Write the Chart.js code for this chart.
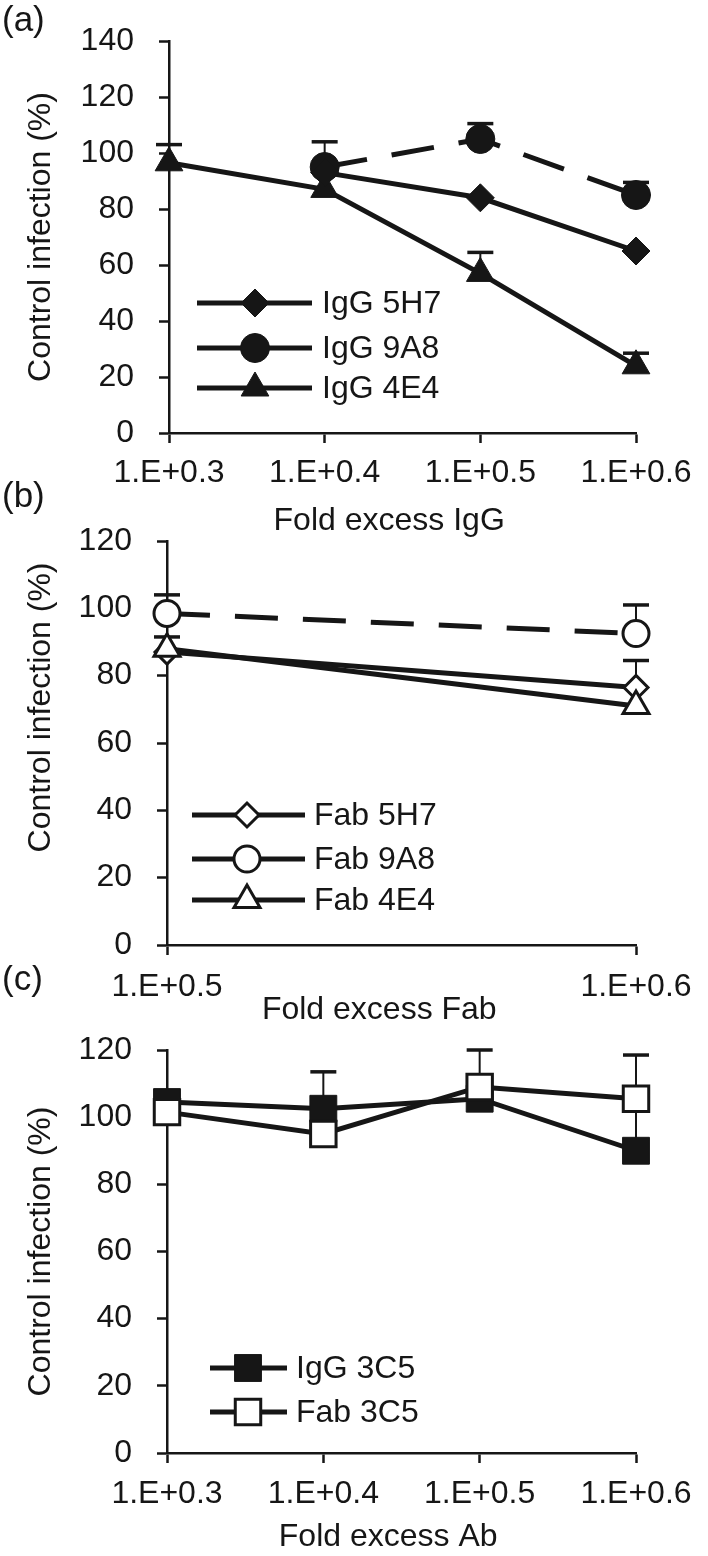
<!DOCTYPE html>
<html>
<head>
<meta charset="utf-8">
<script src="https://cdn.jsdelivr.net/npm/chart.js@4.4.1/dist/chart.umd.min.js"></script>
<style>
  html, body { margin: 0; padding: 0; background: #fff; }
  body { position: relative; width: 708px; height: 1556px; overflow: hidden; }
  canvas { position: absolute; left: 0; }
</style>
</head>
<body>
<canvas id="chartA" width="708" height="545" style="top:0px"></canvas>
<canvas id="chartB" width="708" height="570" style="top:470px"></canvas>
<canvas id="chartC" width="708" height="591" style="top:965px"></canvas>
<script>
// x categories (fold excess)
const iggDoses = ['1.E+0.3', '1.E+0.4', '1.E+0.5', '1.E+0.6'];
const fabDoses = ['1.E+0.5', '1.E+0.6'];
const yTitle = 'Control infection (%)';

// (a) IgG - control infection %, upper error (+SD)
const igg5H7 = [null, 93, 84, 65];
const igg9A8 = [null, 95, 105, 85];
const igg4E4 = [96.5, 87, 57, 24];
const igg5H7Err = [null, null, null, null];
const igg9A8Err = [null, 9, 5.5, 4.5];
const igg4E4Err = [6.5, null, 7.5, 4.5];

// (b) Fab
const fab5H7 = [87, 76.5];
const fab9A8 = [98.5, 92.5];
const fab4E4 = [88, 71];
const fab5H7Err = [null, 8];
const fab9A8Err = [5.5, 8.5];
const fab4E4Err = [3.5, null];

// (c) 3C5
const ab3C5Doses = iggDoses;
const igg3C5 = [104.5, 102.5, 105.5, 90];
const fab3C5 = [101.5, 95, 109, 105.5];
const igg3C5Err = [null, 11, null, 28.5];
const fab3C5Err = [null, null, 11, null];

const FONT = "'Liberation Sans', Arial, Helvetica, sans-serif";
const INK = '#161616';
const FS = 32;

// error bars (up only) + panel tag + in-plot legend
const extras = {
	id: 'extras',
	beforeDatasetsDraw(chart) {
		const ctx = chart.ctx;
		const ys = chart.scales.y;
		ctx.save();
		ctx.strokeStyle = INK;
		chart.data.datasets.forEach((ds, i) => {
			if (!ds.errPlus) return;
			const meta = chart.getDatasetMeta(i);
			ds.errPlus.forEach((e, j) => {
				if (e == null || ds.data[j] == null) return;
				const px = meta.data[j].x;
				const y0 = ys.getPixelForValue(ds.data[j]);
				const y1 = ys.getPixelForValue(ds.data[j] + e);
				ctx.lineWidth = 2;
				ctx.beginPath();
				ctx.moveTo(px, y0);
				ctx.lineTo(px, y1);
				ctx.stroke();
				ctx.lineWidth = 3.5;
				ctx.beginPath();
				ctx.moveTo(px - 13, y1);
				ctx.lineTo(px + 13, y1);
				ctx.stroke();
			});
		});
		ctx.restore();
	},
	afterDraw(chart, args, opts) {
		const ctx = chart.ctx;
		ctx.save();
		ctx.fillStyle = INK;
		ctx.textBaseline = 'middle';
		ctx.font = '35px ' + FONT;
		ctx.fillText(opts.tag, 2, opts.tagY);

		const lg = opts.legend;
		ctx.font = FS + 'px ' + FONT;
		lg.rows.forEach((ry, k) => {
			const ds = chart.data.datasets[k];
			ctx.setLineDash([]);
			ctx.strokeStyle = INK;
			ctx.lineWidth = 5;
			ctx.beginPath();
			ctx.moveTo(lg.x0, ry);
			ctx.lineTo(lg.x1, ry);
			ctx.stroke();
			ctx.fillStyle = ds.pointBackgroundColor;
			ctx.lineWidth = ds.pointBorderWidth;
			Chart.helpers.drawPoint(ctx, {
				pointStyle: ds.pointStyle,
				radius: ds.pointRadius,
				borderWidth: ds.pointBorderWidth,
				rotation: 0
			}, lg.xm, ry);
			ctx.fillStyle = INK;
			ctx.fillText(ds.label, lg.xt, ry + 1);
		});
		ctx.restore();
	}
};

function series(label, data, err, style, radius, filled, dash, order) {
	return {
		label: label,
		data: data,
		errPlus: err,
		order: order || 0,
		borderColor: INK,
		borderWidth: 5,
		borderDash: dash || [],
		pointStyle: style,
		pointRadius: radius,
		pointHoverRadius: radius,
		pointBackgroundColor: filled ? INK : '#ffffff',
		pointBorderColor: INK,
		pointBorderWidth: filled ? 1 : 3,
		tension: 0,
		fill: false
	};
}

function makeOptions(p) {
	const f = { family: FONT, size: FS, lineHeight: 1 };
	return {
		responsive: false,
		maintainAspectRatio: false,
		animation: false,
		events: [],
		layout: { padding: { left: 0, top: p.padTop, right: 72, bottom: 0 } },
		plugins: {
			legend: { display: false },
			tooltip: { enabled: false },
			extras: { tag: p.tag, tagY: p.tagY, legend: p.legend }
		},
		scales: {
			x: {
				type: 'category',
				offset: false,
				grid: { drawOnChartArea: false, drawTicks: true, tickLength: 10, tickWidth: 2.5, tickColor: INK },
				border: { display: true, color: INK, width: 2.5 },
				ticks: { color: INK, font: f, padding: p.xPad, maxRotation: 0, autoSkip: false },
				title: { display: true, text: p.xTitle, color: INK, font: f, padding: { top: 0, bottom: p.titlePad } },
				afterFit: (s) => { s.height = p.xHeight; }
			},
			y: {
				min: 0,
				max: p.yMax,
				grid: { drawOnChartArea: false, drawTicks: true, tickLength: 10, tickWidth: 2.5, tickColor: INK },
				border: { display: true, color: INK, width: 2.5 },
				ticks: { stepSize: 20, color: INK, font: f, padding: 25 },
				title: { display: true, text: p.yTitle || yTitle, color: INK, font: f, padding: { top: 25, bottom: 0 } },
				afterFit: (s) => { s.width = p.yWidth; }
			}
		}
	};
}

new Chart(document.getElementById('chartA'), {
	type: 'line',
	data: {
		labels: iggDoses,
		datasets: [
			series('IgG 5H7', igg5H7, igg5H7Err, 'rectRot', 14, true),
			series('IgG 9A8', igg9A8, igg9A8Err, 'circle', 14.5, true, [43, 25]),
			series('IgG 4E4', igg4E4, igg4E4Err, 'triangle', 16, true)
		]
	},
	options: makeOptions({
		tag: '(a)', tagY: 21, padTop: 33, yMax: 140, yWidth: 169,
		xHeight: 112, xPad: 14, titlePad: 8, xTitle: 'Fold excess IgG   ',
		legend: { x0: 197, x1: 312, xm: 255, xt: 322, rows: [303, 348, 388] }
	}),
	plugins: [extras]
});

new Chart(document.getElementById('chartB'), {
	type: 'line',
	data: {
		labels: fabDoses,
		datasets: [
			series('Fab 5H7', fab5H7, fab5H7Err, 'rectRot', 12, false, null, 2),
			series('Fab 9A8', fab9A8, fab9A8Err, 'circle', 13, false, [43, 25], 1),
			series('Fab 4E4', fab4E4, fab4E4Err, 'triangle', 15, false, null, 0)
		]
	},
	options: makeOptions({
		tag: '(b)', tagY: 27, padTop: 71, yMax: 120, yWidth: 167,
		xHeight: 95, xPad: 16, titlePad: 14, xTitle: 'Fold excess Fab     ',
		yTitle: '        ' + yTitle,
		legend: { x0: 192, x1: 305, xm: 247, xt: 314, rows: [345, 389, 430] }
	}),
	plugins: [extras]
});

new Chart(document.getElementById('chartC'), {
	type: 'line',
	data: {
		labels: ab3C5Doses,
		datasets: [
			series('IgG 3C5', igg3C5, igg3C5Err, 'rect', 19, true, null, 1),
			series('Fab 3C5', fab3C5, fab3C5Err, 'rect', 18, false, null, 0)
		]
	},
	options: makeOptions({
		tag: '(c)', tagY: 15, padTop: 85, yMax: 120, yWidth: 167,
		xHeight: 103, xPad: 15, titlePad: 3, xTitle: 'Fold excess Ab   ',
		legend: { x0: 210, x1: 287, xm: 248, xt: 296, rows: [403, 447] }
	}),
	plugins: [extras]
});
</script>
</body>
</html>
